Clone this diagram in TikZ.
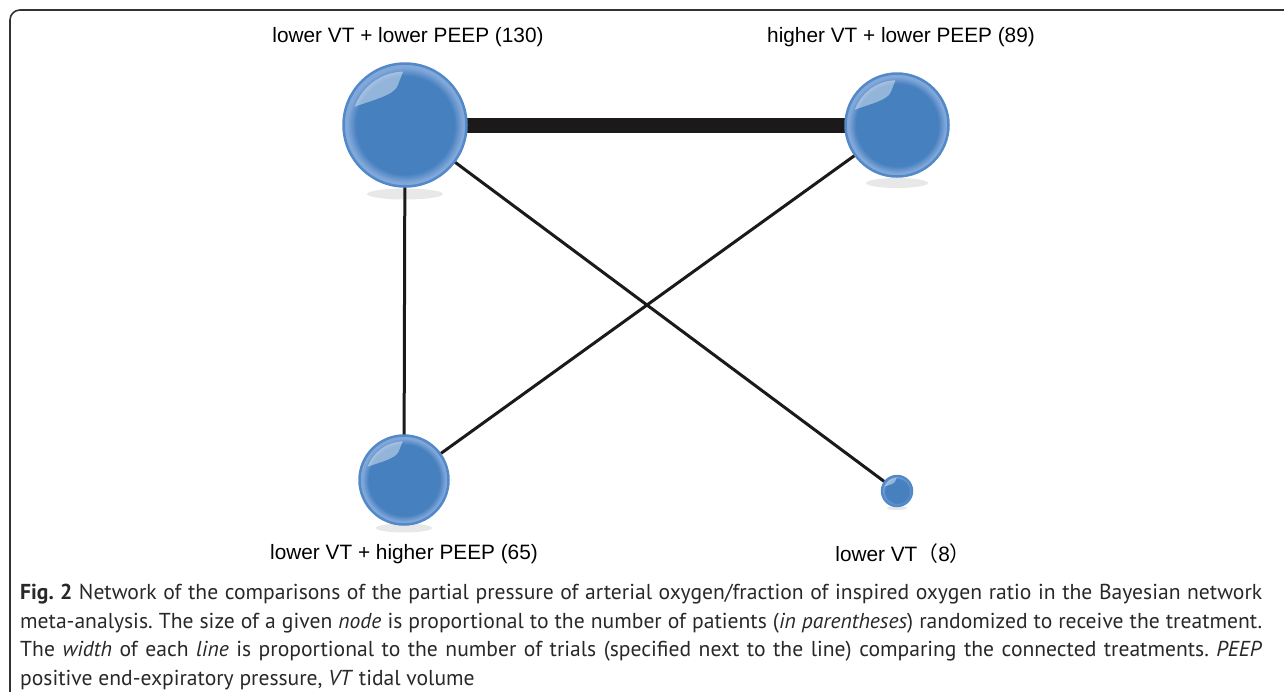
\documentclass[tikz,border=0pt]{standalone}
\usepackage{fontspec}
\setmainfont{Liberation Sans}
\newfontfamily\capfont{PT Sans}
\newfontfamily\cjk{Noto Sans CJK SC}
\usetikzlibrary{backgrounds,calc}
\definecolor{ballblue}{RGB}{70,128,191}
\definecolor{balledge}{RGB}{130,168,218}
\definecolor{ballrim}{RGB}{82,137,200}
\definecolor{edgeblack}{RGB}{28,25,26}
\definecolor{shadowgray}{RGB}{232,232,232}
\definecolor{framegray}{RGB}{50,50,50}
\definecolor{captext}{RGB}{40,40,40}
\pgfdeclareradialshading{ballshade}{\pgfpoint{0bp}{0bp}}{color(0bp)=(ballblue); color(20bp)=(ballblue); color(23.5bp)=(balledge); color(25bp)=(balledge); color(50bp)=(balledge)}
\tikzset{
  ball/.style={circle, draw=ballrim, line width=2.5pt, shading=ballshade, inner sep=0pt, outer sep=0pt, minimum size=#1,
    path picture={
      \fill[white,opacity=.42] let \p1=(path picture bounding box.center), \p2=(path picture bounding box.east), \n1={\x2-\x1} in
        ($(\p1)+(160:{0.87*\n1})$) arc[start angle=160,end angle=92,radius={0.87*\n1}]
        -- ($(\p1)+({-0.12*\n1},{0.64*\n1})$)
        .. controls ($(\p1)+({-0.18*\n1},{0.48*\n1})$) and ($(\p1)+({-0.55*\n1},{0.40*\n1})$) .. cycle;
    }},
  lab/.style={font=\fontsize{20.8}{24}\selectfont, text=black, inner sep=0pt},
  link/.style={draw=edgeblack, line width=3pt},
}
\begin{document}
\begin{tikzpicture}[x=1pt,y=1pt]
\useasboundingbox (0,0) rectangle (1284,-691);
\draw[framegray, line width=1.6pt, rounded corners=10pt] (1290,-10) -- (10,-10) -- (10,-700);

\node[ball=123pt] (A) at (405,-125) {};
\node[ball=103pt] (B) at (897,-125) {};
\node[ball=89pt] (C) at (404,-480) {};
\node[ball=30pt] (D) at (897,-491) {};

\begin{scope}[on background layer]
  \fill[shadowgray] ($(A.center)+(0,-69)$) ellipse[x radius=38, y radius=5.5];
  \fill[shadowgray] ($(B.center)+(0,-58)$) ellipse[x radius=31, y radius=5];
  \fill[shadowgray] ($(C.center)+(0,-48)$) ellipse[x radius=28, y radius=4.5];
  \fill[shadowgray] ($(D.center)+(0,-17)$) ellipse[x radius=10, y radius=2];
  \draw[link, line width=15pt] (A) -- (B);
  \draw[link] (A) -- (C);
  \draw[link] (A) -- (D);
  \draw[link] (B) -- (C);
\end{scope}

\node[lab] (la) at (408,-37) {lower VT + lower PEEP (130)};
\node[lab] (lb) at (901,-37) {higher VT + lower PEEP (89)};
\node[lab] (lc) at (404,-554) {lower VT + higher PEEP (65)};
\node[lab] (ld) at (903,-554) {lower VT{\cjk（}8{\cjk）}};

\node[anchor=north west, text width=1242pt, align=justify, inner sep=0pt, text=captext,
      font=\capfont\fontsize{21.6}{28.6}\selectfont\frenchspacing] (cap) at (20,-584)
{\textbf{Fig. 2} Network of the comparisons of the partial pressure of arterial oxygen/fraction of inspired oxygen ratio in the Bayesian network\linebreak
meta-analysis. The size of a given \textit{node} is proportional to the number of patients (\textit{in parentheses}) randomized to receive the treatment.\linebreak
The \textit{width} of each \textit{line} is proportional to the number of trials (specified next to the line) comparing the connected treatments. \textit{PEEP}\linebreak
positive end-expiratory pressure, \textit{VT} tidal volume};
\end{tikzpicture}
\end{document}
